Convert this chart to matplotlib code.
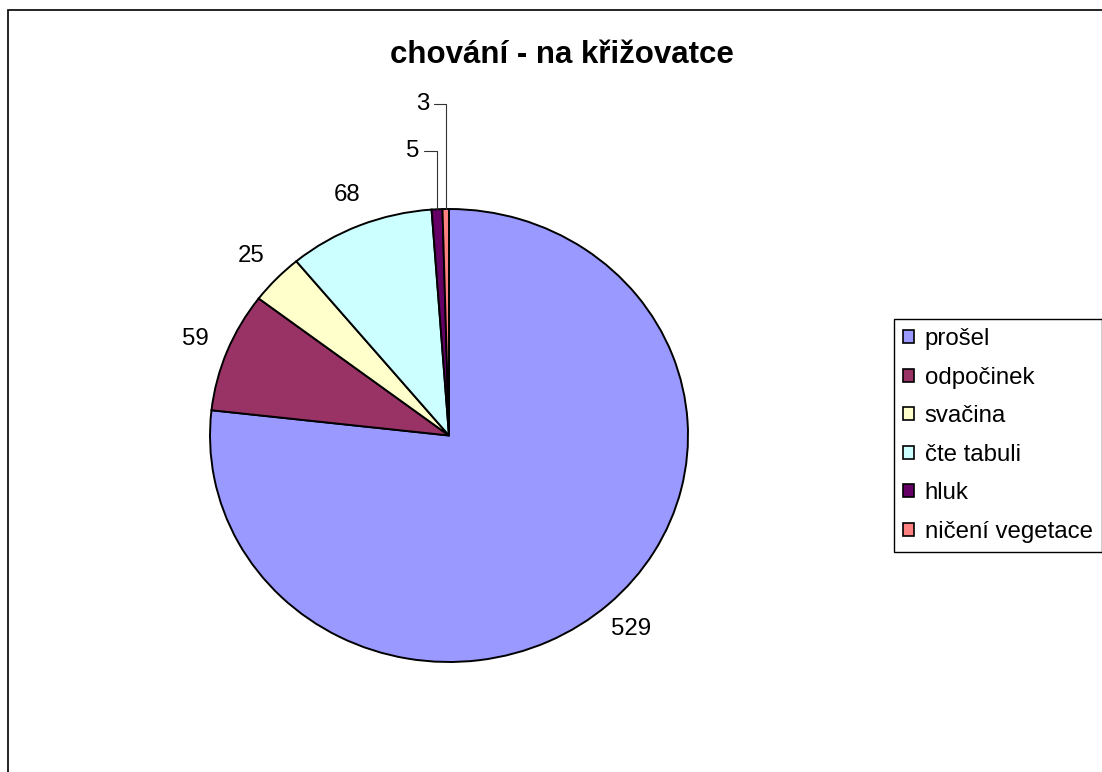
import numpy as np
import matplotlib
matplotlib.use("Agg")
import matplotlib.pyplot as plt
from matplotlib.patches import Patch, Rectangle

# data
kategorije = ['prošel', 'odpočinek', 'svačina', 'čte tabuli', 'hluk', 'ničení vegetace']
hodnote = [529, 59, 25, 68, 5, 3]
barve = ['#9999FF', '#993366', '#FFFFCC', '#CCFFFF', '#660066', '#FF8080']
naslov = 'chování - na křižovatce'

plt.rcParams['font.family'] = ['Liberation Sans', 'DejaVu Sans']

W, H = 1102, 772
fig = plt.figure(figsize=(W / 100, H / 100), dpi=100)

# okvir grafa (desni in spodnji rob sta odrezana)
fig.patches.append(Rectangle((8 / W, -0.5), 2, 1 - 10 / H + 0.5, transform=fig.transFigure,
                             fill=False, edgecolor='black', linewidth=1.2))

ax = fig.add_axes([210 / W, (H - 662) / H, 478 / W, 453 / H])
wedges, _ = ax.pie(hodnote, colors=barve, startangle=90, counterclock=False,
                   wedgeprops=dict(edgecolor='black', linewidth=1.4))
ax.set_aspect('auto')
ax.set_xlim(-1, 1)
ax.set_ylim(-1, 1)

# oznake vrednosti
for w, v in zip(wedges, hodnote):
    kot = np.deg2rad((w.theta1 + w.theta2) / 2)
    if v >= 10:
        ax.text(1.145 * np.cos(kot), 1.145 * np.sin(kot), str(v),
                ha='center', va='center', fontsize=17.3)

# majhne rezine z vodilnimi črtami
odmiki = {5: (-24, 58), 3: (-23, 105)}
for w, v in zip(wedges, hodnote):
    if v in odmiki:
        kot = np.deg2rad((w.theta1 + w.theta2) / 2)
        ax.annotate(str(v), xy=(np.cos(kot), np.sin(kot)), xytext=odmiki[v],
                    textcoords='offset pixels', ha='center', va='center', fontsize=17.3,
                    arrowprops=dict(arrowstyle='-', color='#333333', linewidth=0.8,
                                    connectionstyle='angle,angleA=0,angleB=90',
                                    relpos=(1, 0.5), shrinkA=1, shrinkB=0))

fig.text(562 / W, 1 - 55 / H, naslov, ha='center', va='center',
         fontsize=22.5, fontweight='bold')

rocaji = [Patch(facecolor=c, edgecolor='black', linewidth=1.2) for c in barve]
leg = fig.legend(rocaji, kategorije, loc='upper left', bbox_to_anchor=(894 / W, 1 - 319 / H),
                 borderaxespad=0, fontsize=17.3, handlelength=0.45, handleheight=0.45,
                 handletextpad=0.45, labelspacing=0.69, borderpad=0.38,
                 fancybox=False, framealpha=1, edgecolor='black')
leg.get_frame().set_linewidth(1.0)

fig.savefig('out.png', dpi=100)
